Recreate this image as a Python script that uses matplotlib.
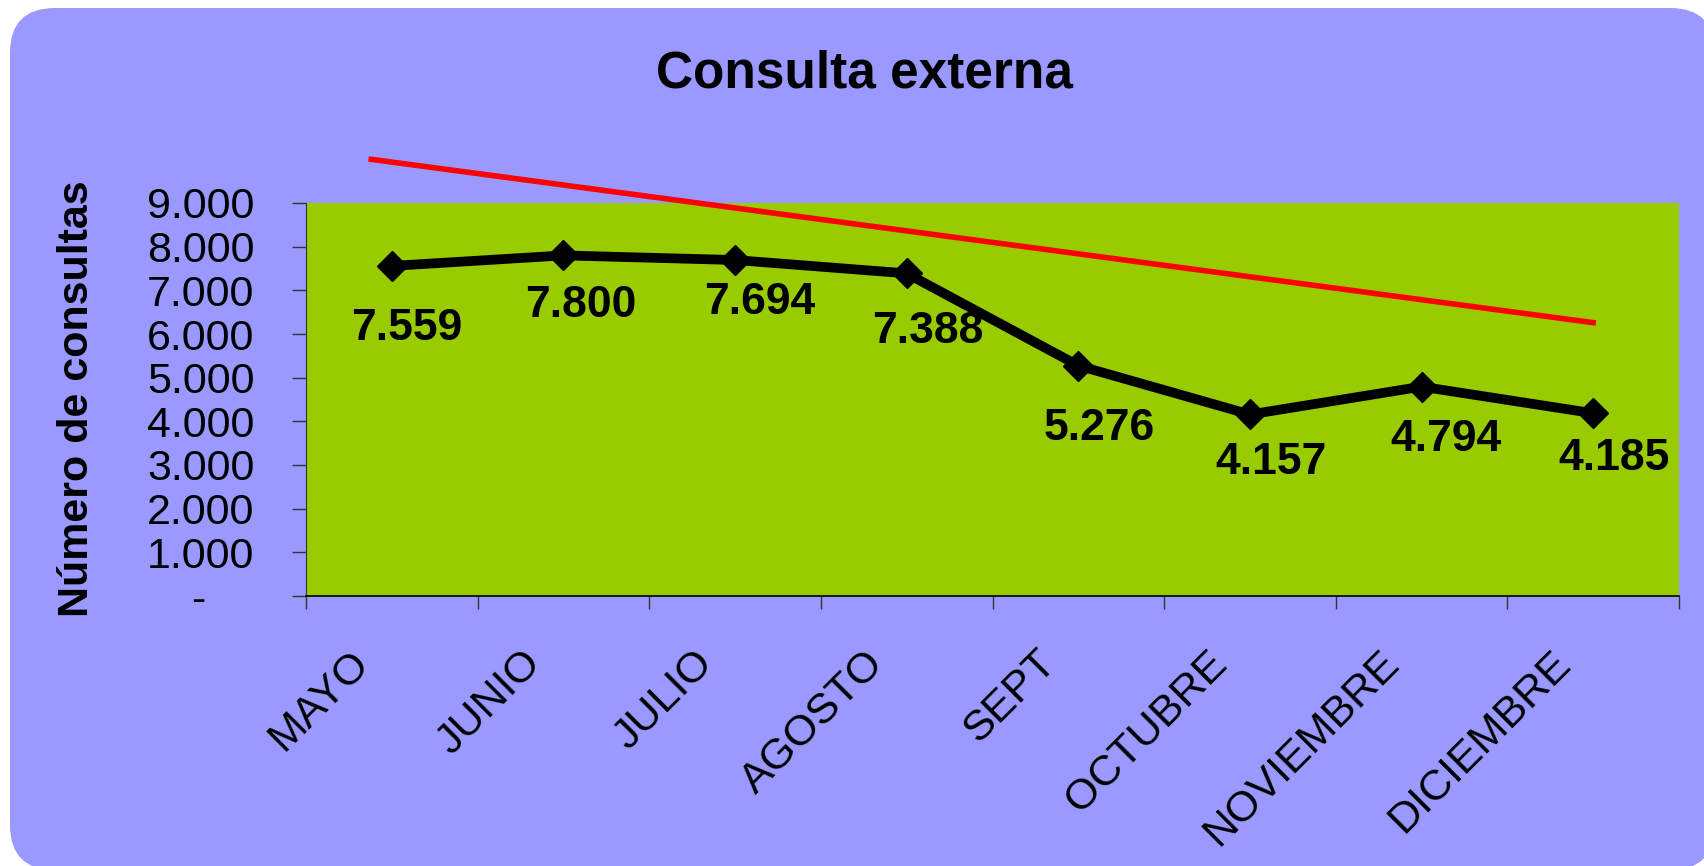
import matplotlib
matplotlib.use('Agg')
import matplotlib.pyplot as plt
from matplotlib.patches import FancyBboxPatch
from matplotlib.ticker import FuncFormatter

meses = ['MAYO', 'JUNIO', 'JULIO', 'AGOSTO', 'SEPT', 'OCTUBRE', 'NOVIEMBRE', 'DICIEMBRE']
consultas = [7559, 7800, 7694, 7388, 5276, 4157, 4794, 4185]

# linea de tendencia (inicio y fin)
tendencia_x = [-0.12, 7.0]
tendencia_y = [10000, 6260]

y_ticks = [0, 1000, 2000, 3000, 4000, 5000, 6000, 7000, 8000, 9000]

# desplazamiento de cada etiqueta de valor, en pixeles (hasta la linea base)
label_off = [(15, -74), (17, -62), (25, -54), (21, -70),
             (21, -74), (21, -60), (24, -64), (21, -57)]

W, H = 1704, 866
plt.rcParams['font.family'] = ['Liberation Sans', 'DejaVu Sans']

fig = plt.figure(figsize=(W / 100, H / 100), dpi=100, facecolor='white')

# fondo redondeado del grafico
bg = fig.add_axes([0, 0, 1, 1], zorder=-5)
bg.set_xlim(0, W)
bg.set_ylim(H, 0)
bg.axis('off')
bg.add_patch(FancyBboxPatch((10, 8), 1705, 862, boxstyle='round,pad=0,rounding_size=45',
                            facecolor='#9999FF', edgecolor='none'))

ax = fig.add_axes([306 / W, 1 - 596 / H, (1679 - 306) / W, (596 - 203) / H])
ax.set_facecolor('#99CC00')
ax.set_xlim(-0.5, 7.5)
ax.set_ylim(0, 9000)

x = list(range(len(meses)))
ax.plot(tendencia_x, tendencia_y, color='#FF0000', lw=4, clip_on=False, zorder=2)
ax.plot(x, consultas, color='black', lw=7, marker='D', ms=15, zorder=3, clip_on=False)

for i, v in enumerate(consultas):
    dx, dy = label_off[i]
    ax.annotate(f'{v:,}'.replace(',', '.'), (i, v), xytext=(dx, dy), textcoords='offset pixels',
                ha='center', va='baseline', fontsize=32, fontweight='bold', zorder=4)


def miles(v, pos):
    if v == 0:
        return '-    '
    return f'{v:,.0f}'.replace(',', '.')


ax.set_yticks(y_ticks)
ax.yaxis.set_major_formatter(FuncFormatter(miles))
ax.tick_params(axis='y', length=10, width=1, color='#333333', pad=27, labelsize=31)

# marcas del eje x entre categorias
ax.set_xticks([i - 0.5 for i in range(len(meses) + 1)])
ax.set_xticklabels([])
ax.tick_params(axis='x', length=9.5, width=1, color='#333333')

for i, m in enumerate(meses):
    ax.annotate(m, (i, 0), xycoords=('data', 'axes fraction'), xytext=(-21, -69),
                textcoords='offset pixels', rotation=45, rotation_mode='anchor',
                ha='right', va='baseline', fontsize=31)

for s in ['top', 'right']:
    ax.spines[s].set_visible(False)
ax.spines['left'].set_color('#333333')
ax.spines['bottom'].set_color('black')
ax.spines['bottom'].set_linewidth(1.2)

fig.text(865 / W, 1 - 88 / H, 'Consulta externa', ha='center', va='baseline',
         fontsize=37, fontweight='bold')
fig.text(77 / W, 1 - 399 / H, 'Número de consultas', rotation=90, ha='center', va='center',
         fontsize=31, fontweight='bold')

fig.savefig('out.png', dpi=100, facecolor='white')
